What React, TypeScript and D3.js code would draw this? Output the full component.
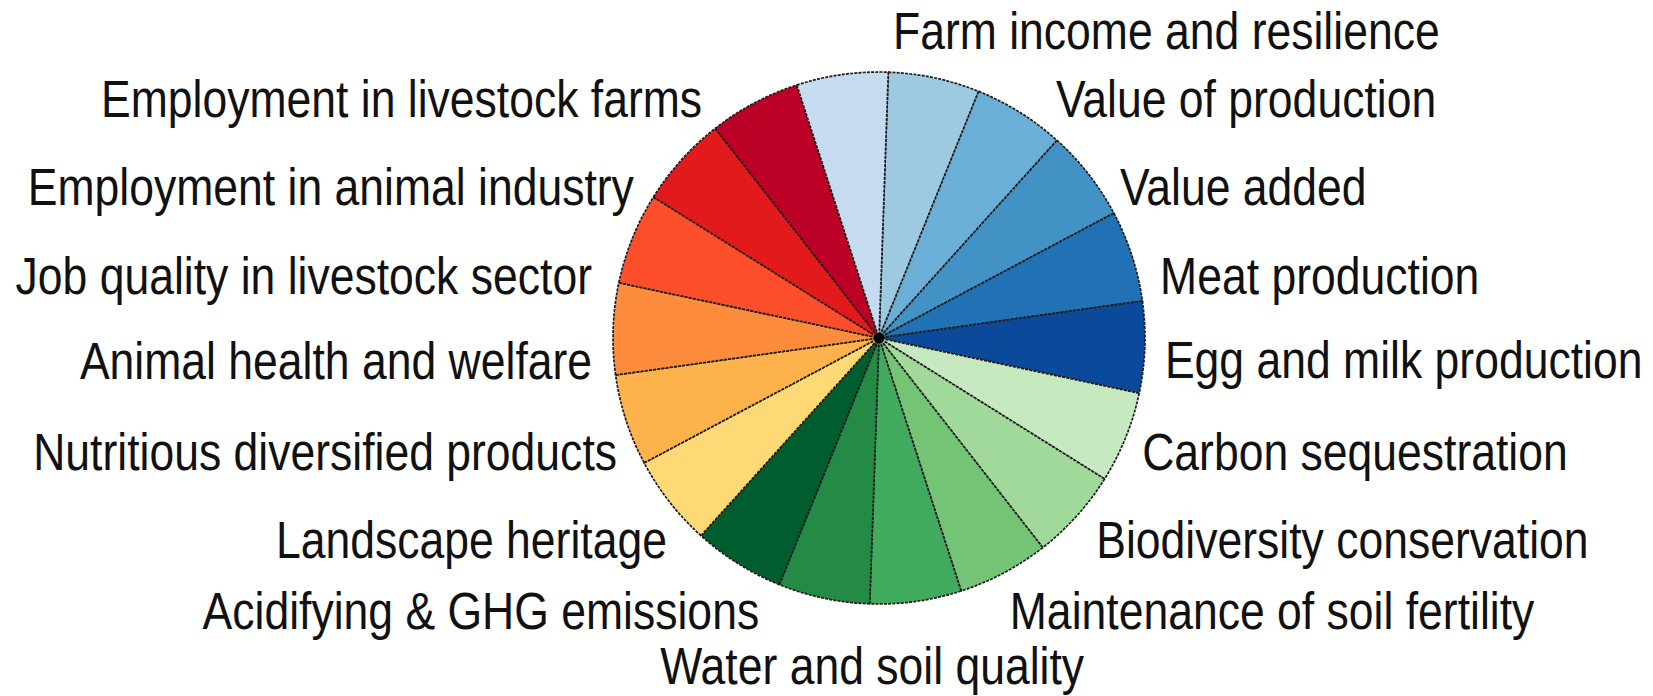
import React, { useEffect } from "react";
import * as d3 from "d3";

// ---- data ----
const sliceValues: number[] = [1, 1, 1, 1, 1, 1, 1, 1, 1, 1, 1, 1, 1, 1, 1, 1, 1, 1];
const sliceColors: string[] = [
  "#9ecae1", "#6baed6", "#4292c6", "#2171b5", "#0b4a9a",
  "#c7e9c0", "#a1d99b", "#74c476", "#41ab5d", "#238b45", "#005e2e",
  "#fed976", "#feb24c", "#fd8d3c", "#fc4e2a", "#e31a1c", "#bd0026",
  "#c6dbef",
];
const labels: string[] = [
  "Farm income and resilience",
  "Value of production",
  "Value added",
  "Meat production",
  "Egg and milk production",
  "Carbon sequestration",
  "Biodiversity conservation",
  "Maintenance of soil fertility",
  "Water and soil quality",
  "Acidifying & GHG emissions",
  "Landscape heritage",
  "Nutritious diversified products",
  "Animal health and welfare",
  "Job quality in livestock sector",
  "Employment in animal industry",
  "Employment in livestock farms",
];

// ---- layout (label placement, polar: degrees clockwise from top, radius factor) ----
const LABEL_ANGLE = [2.6, 36.5, 57.9, 77.6, 94.4, 113.4, 132.9, 154.4, 181.2, 203.7, 226.4, 246.5, 265.4, 282.2, 301.6, 323.5];
const LABEL_RADIUS = [1.155, 1.118, 1.069, 1.082, 1.078, 1.078, 1.115, 1.138, 1.232, 1.121, 1.101, 1.074, 1.082, 1.104, 1.082, 1.118];

const W = 1653;
const H = 696;
const CX = 879;
const CY = 338;
const R = 266;
const FONT = 51;
const SX = 0.873;
const START_DEG = 2;

export default function App() {
  useEffect(() => {
    document.body.style.margin = "0";
    document.body.style.overflow = "hidden";
  }, []);

  const pie = d3
    .pie<number>()
    .sort(null)
    .value((d) => d)
    .startAngle((START_DEG * Math.PI) / 180)
    .endAngle(((START_DEG + 360) * Math.PI) / 180);
  const arcs = pie(sliceValues);
  const arc = d3.arc<d3.PieArcDatum<number>>().innerRadius(0).outerRadius(R);

  const capHalf = FONT * 0.716 * 0.5;

  return (
    <svg width={W} height={H} style={{ display: "block", background: "#fff" }}>
      <g transform={`translate(${CX},${CY})`}>
        {arcs.map((a, i) => (
          <path
            key={i}
            d={arc(a) || ""}
            fill={sliceColors[i]}
            stroke="#1c1c1c"
            strokeWidth={1.7}
            strokeDasharray="3 1.2"
            strokeLinejoin="round"
          />
        ))}
        <circle r={5} fill="#000" />
      </g>
      {labels.map((t, i) => {
        const ang = (LABEL_ANGLE[i] * Math.PI) / 180;
        const r = LABEL_RADIUS[i] * R;
        const x = CX + r * Math.sin(ang);
        const y = CY - r * Math.cos(ang) + capHalf;
        const deg = LABEL_ANGLE[i];
        const anchor = deg > 170 && deg < 190 ? "middle" : deg < 180 ? "start" : "end";
        return (
          <text
            key={t}
            transform={`translate(${x},${y}) scale(${SX},1)`}
            textAnchor={anchor}
            fontFamily="'Liberation Sans', Arial, sans-serif"
            fontSize={FONT}
            fill="#111"
          >
            {t}
          </text>
        );
      })}
    </svg>
  );
}
